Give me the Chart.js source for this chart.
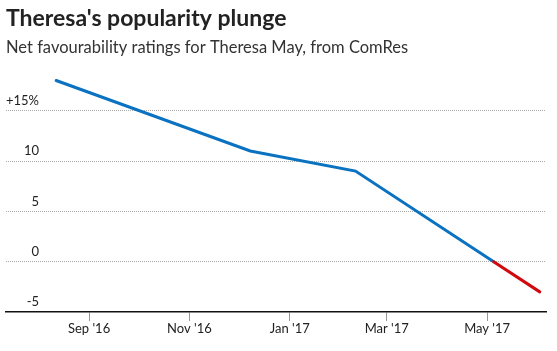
<!DOCTYPE html>
<html>
<head>
<meta charset="utf-8">
<script src="https://cdn.jsdelivr.net/npm/chart.js@4"></script>
<style>
  html, body { margin: 0; padding: 0; background: #fff; }
  #wrap { width: 557px; height: 351px; }
</style>
</head>
<body>
<div id="wrap"><canvas id="chart" width="557" height="351"></canvas></div>
<script>
// poll dates and net favourability
const pollDates = ["2016-08-12", "2016-12-08", "2017-02-10", "2017-05-05", "2017-06-02"];
const netRatings = [18, 11, 9, 0, -3];

// axis ticks
const xTickDates = ["2016-09-01", "2016-11-01", "2017-01-01", "2017-03-01", "2017-05-01"];
const xTickLabels = ["Sep '16", "Nov '16", "Jan '17", "Mar '17", "May '17"];
const yTicks = [-5, 0, 5, 10, 15];
const yTickLabels = ["-5", "0", "5", "10", "+15%"];

const origin = Date.UTC(2016, 8, 1);
function dayOf(s) {
    const p = s.split("-").map(Number);
    return (Date.UTC(p[0], p[1] - 1, p[2]) - origin) / 86400000;
}

const points = pollDates.map((d, i) => ({ x: dayOf(d), y: netRatings[i] }));
const xTickValues = xTickDates.map(dayOf);

const blue = "#0a72c0";
const red = "#d10a10";
const font = "Lato, 'Open Sans', sans-serif";

new Chart(document.getElementById("chart"), {
    type: "line",
    data: {
        datasets: [{
            data: points,
            borderColor: blue,
            borderWidth: 3,
            borderCapStyle: "round",
            pointRadius: 0,
            tension: 0,
            segment: {
                borderColor: ctx => ctx.p0DataIndex >= 3 ? red : blue
            }
        }]
    },
    options: {
        responsive: false,
        animation: false,
        layout: { padding: { left: 6, right: 11, top: 3, bottom: 0 } },
        plugins: {
            legend: { display: false },
            tooltip: { enabled: false },
            title: {
                display: true,
                text: "Theresa's popularity plunge",
                align: "start",
                color: "#222",
                font: { family: font, size: 23, weight: "bold", lineHeight: 1.2 },
                padding: { top: 2, bottom: 0 }
            },
            subtitle: {
                display: true,
                text: "Net favourability ratings for Theresa May, from ComRes",
                align: "start",
                color: "#333",
                font: { family: font, size: 16.5, lineHeight: 1.2 },
                padding: { top: 5, bottom: 3 }
            }
        },
        scales: {
            x: {
                type: "linear",
                min: -50.5,
                max: 277.8,
                afterBuildTicks: s => { s.ticks = xTickValues.map(v => ({ value: v })); },
                afterFit: s => { s.height = 39; },
                grid: {
                    drawOnChartArea: false,
                    drawTicks: true,
                    tickLength: 9,
                    tickColor: "#999",
                    tickWidth: 1
                },
                border: { display: true, color: "#111", width: 1.5 },
                ticks: {
                    color: "#222",
                    padding: 0,
                    maxRotation: 0,
                    font: { family: font, size: 13 },
                    callback: (v, i) => xTickLabels[i]
                }
            },
            y: {
                min: -5,
                max: 20,
                afterBuildTicks: s => { s.ticks = yTicks.map(v => ({ value: v })); },
                border: { display: false, dash: [1, 1] },
                grid: {
                    drawTicks: false,
                    color: ctx => ctx.tick && ctx.tick.value === -5 ? "rgba(0,0,0,0)" : "#aaa",
                    lineWidth: 1
                },
                ticks: {
                    mirror: true,
                    crossAlign: "far",
                    padding: 0,
                    labelOffset: -10,
                    color: "#222",
                    font: { family: font, size: 13 },
                    callback: (v, i) => yTickLabels[i]
                }
            }
        }
    }
});
</script>
</body>
</html>
